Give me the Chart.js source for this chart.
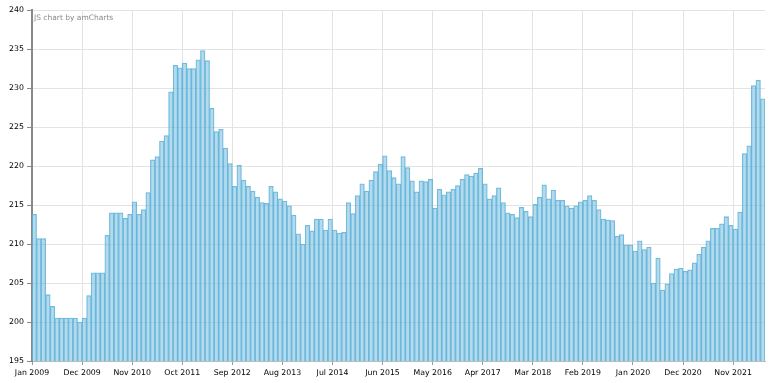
<!DOCTYPE html>
<html>
<head>
<meta charset="utf-8">
<script src="https://cdn.jsdelivr.net/npm/chart.js@4/dist/chart.umd.min.js"></script>
<style>
  html, body { margin: 0; padding: 0; background: #fff; }
  #wrap { width: 780px; height: 383px; position: relative; }
</style>
</head>
<body>
<div id="wrap"><canvas id="c"></canvas></div>
<script>
// Monthly values, Jan 2009 .. May 2022
const values2009 = [213.8, 210.7, 210.7, 203.5, 202.0, 200.5, 200.5, 200.5, 200.5, 200.5, 200.0, 200.5];
const values2010 = [203.4, 206.3, 206.3, 206.3, 211.1, 214.0, 214.0, 214.0, 213.3, 213.8, 215.4, 213.8];
const values2011 = [214.4, 216.6, 220.8, 221.2, 223.2, 223.9, 229.5, 232.9, 232.6, 233.2, 232.5, 232.5];
const values2012 = [233.6, 234.8, 233.5, 227.4, 224.4, 224.7, 222.3, 220.3, 217.4, 220.1, 218.2, 217.4];
const values2013 = [216.8, 216.0, 215.3, 215.2, 217.4, 216.7, 215.8, 215.5, 214.9, 213.7, 211.3, 210.0];
const values2014 = [212.4, 211.7, 213.2, 213.2, 211.8, 213.2, 211.8, 211.4, 211.5, 215.3, 213.9, 216.2];
const values2015 = [217.7, 216.8, 218.2, 219.3, 220.2, 221.3, 219.4, 218.5, 217.7, 221.2, 219.8, 218.1];
const values2016 = [216.7, 218.1, 218.0, 218.3, 214.6, 217.0, 216.3, 216.7, 217.0, 217.5, 218.3, 218.9];
const values2017 = [218.7, 219.1, 219.7, 217.7, 215.8, 216.2, 217.2, 215.3, 214.0, 213.8, 213.4, 214.7];
const values2018 = [214.2, 213.5, 215.1, 216.0, 217.6, 215.8, 216.9, 215.6, 215.6, 214.9, 214.6, 214.9];
const values2019 = [215.4, 215.6, 216.2, 215.6, 214.4, 213.2, 213.1, 213.0, 211.0, 211.2, 209.9, 209.9];
const values2020 = [209.1, 210.4, 209.3, 209.6, 205.0, 208.2, 204.1, 204.9, 206.2, 206.8, 206.9, 206.5];
const values2021 = [206.7, 207.6, 208.7, 209.6, 210.4, 212.0, 212.0, 212.6, 213.5, 212.4, 211.9, 214.1];
const values2022 = [221.6, 222.6, 230.3, 231.0, 228.6];

const values = [].concat(values2009, values2010, values2011, values2012, values2013, values2014,
  values2015, values2016, values2017, values2018, values2019, values2020, values2021, values2022);

const monthNames = ['Jan','Feb','Mar','Apr','May','Jun','Jul','Aug','Sep','Oct','Nov','Dec'];
const startYear = 2009;
const categories = values.map((v, i) => monthNames[i % 12] + ' ' + (startYear + Math.floor(i / 12)));

const tickLabels = ['Jan 2009', 'Dec 2009', 'Nov 2010', 'Oct 2011', 'Sep 2012', 'Aug 2013', 'Jul 2014',
  'Jun 2015', 'May 2016', 'Apr 2017', 'Mar 2018', 'Feb 2019', 'Jan 2020', 'Dec 2020', 'Nov 2021'];
const tickEvery = 11;
const yTicks = [195, 200, 205, 210, 215, 220, 225, 230, 235, 240];

const FONT = 'DejaVu Sans, Verdana, sans-serif';

const watermark = {
  id: 'watermark',
  afterDraw(chart) {
    const ctx = chart.ctx, a = chart.chartArea;
    ctx.save();
    ctx.font = '7.5px ' + FONT;
    ctx.fillStyle = '#8a8a8a';
    ctx.textBaseline = 'middle';
    ctx.textAlign = 'left';
    ctx.fillText('JS chart by amCharts', a.left + 2, 18);
    ctx.restore();
  }
};

new Chart(document.getElementById('c'), {
  type: 'bar',
  data: {
    datasets: [{
      data: values.map((v, i) => ({ x: i + 0.5, y: v, label: categories[i] })),
      backgroundColor: 'rgba(103,183,220,0.5)',
      borderColor: 'rgba(85,172,215,0.8)',
      borderWidth: 0.6,
      barPercentage: 1,
      categoryPercentage: 1
    }]
  },
  options: {
    responsive: true,
    maintainAspectRatio: false,
    animation: false,
    layout: { padding: { top: 10, right: 15, left: 0, bottom: 0 } },
    plugins: { legend: { display: false }, tooltip: { enabled: false } },
    scales: {
      x: {
        type: 'linear',
        offset: false,
        min: 0,
        max: values.length,
        afterFit(scale) { scale.height = 22; },
        ticks: {
          stepSize: tickEvery,
          includeBounds: false,
          autoSkip: false,
          maxRotation: 0,
          padding: 3,
          color: '#000',
          font: { family: FONT, size: 7.8 },
          callback: (v) => (v % tickEvery === 0 && tickLabels[v / tickEvery]) ? tickLabels[v / tickEvery] : ''
        },
        grid: { offset: false, color: '#e3e3e3', tickColor: '#999', tickLength: 4, lineWidth: 1 },
        border: { display: true, color: '#bbb', width: 1 }
      },
      y: {
        min: yTicks[0],
        max: yTicks[yTicks.length - 1],
        afterFit(scale) { scale.width = 32; },
        afterBuildTicks(scale) { scale.ticks = yTicks.map(v => ({ value: v })); },
        ticks: {
          padding: 3,
          color: '#000',
          font: { family: FONT, size: 7.8 }
        },
        grid: { color: '#e3e3e3', tickColor: '#888', tickLength: 5, lineWidth: 1 },
        border: { display: true, color: '#888', width: 2 }
      }
    }
  },
  plugins: [watermark]
});
</script>
</body>
</html>
